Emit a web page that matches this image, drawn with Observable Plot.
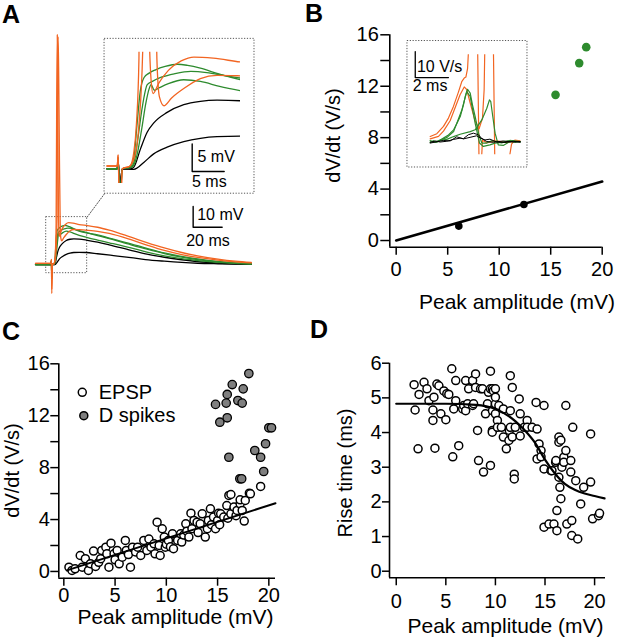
<!DOCTYPE html>
<html>
<head>
<meta charset="utf-8">
<script src="https://cdn.jsdelivr.net/npm/d3@7"></script>
<script src="https://cdn.jsdelivr.net/npm/@observablehq/plot@0.6"></script>
<style>
html,body{margin:0;padding:0;background:#fff;}
#fig{position:relative;width:617px;height:638px;overflow:hidden;background:#fff;font-family:"Liberation Sans",Arial,Helvetica,sans-serif;}
.panel-letter{position:absolute;font-weight:bold;font-size:25px;line-height:25px;color:#000;z-index:5;}
</style>
</head>
<body>
<div id="fig">
<div class="panel-letter" style="left:2px;top:2px">A</div>
<div class="panel-letter" style="left:305px;top:1px">B</div>
<div class="panel-letter" style="left:2px;top:319px">C</div>
<div class="panel-letter" style="left:310px;top:317px">D</div>
</div>
<script>
// ---------------- Panel A: voltage traces (t in ms, v in mV) ----------------
const black1T = [-10.8,-1,0,0.15,0.4,0.8,2.6,4.2,5.7,7.8,10.4,13,15.6,19.3,24,32,43,55,65,78,90,101,115,127,138];
const black1V = [0,0,0,1.5,-3,0,-0.1,1.2,2.7,3.9,4.9,5.5,5.8,5.9,5.8,5.2,4.3,3.3,2.4,1.6,1.0,0.6,0.35,0.2,0.1];
const black2T = [-10.8,-1,0,0.15,0.4,0.8,2.1,2.6,3.64,4.68,5.72,7.8,10.4,13,15.6,19.3,25,32,40,55,66,78,90,101,115,127,138];
const black2V = [0,0,0,1.5,-3,0,0,0.3,3.6,6.6,8.3,10.2,11.6,12.2,12.4,12.3,11.7,10.8,9.5,6.8,5.0,3.5,2.3,1.4,0.7,0.35,0.2];
const green1T = [-10.8,-1,0,0.15,0.4,0.8,2,2.6,3.1,3.6,4.2,5,6,7.5,9.4,11,13,16,19.3,25,32,40,55,66,78,90,101,115,127,138];
const green1V = [0,0,0,2,-7,0,0.3,2,8,14,16.5,17.3,17.9,18.5,18.9,18.7,18.2,17.1,16.1,15.2,14.3,12.8,10,7.8,5.6,3.9,2.7,1.5,0.8,0.4];
const green2T = [-10.8,-1,0,0.15,0.4,0.8,2.2,2.8,3.3,3.9,4.7,5.5,7,9,11.5,14,17,19.3,25,32,40,55,66,78,90,101,115,127,138];
const green2V = [0,0,0,2,-6,0,0.3,2,6,11,15.2,15.8,16.6,17.2,17.6,17.4,16.8,16.4,15.3,14,12.5,9.5,7.4,5.3,3.6,2.4,1.3,0.7,0.3];
const green3T = [-10.8,-1,0,0.15,0.4,0.8,2.3,3,3.8,4.5,5.0,5.3,5.8,6.5,8,10.4,13,16,19.3,25,32,40,55,66,78,90,101,115,127,138];
const green3V = [0,0,0,2,-7,0,0.3,2,7,12,14.5,15.2,14.2,14.6,15.4,16.1,15.8,14.9,14.1,13,11.8,10.5,8,6.0,4.2,2.8,1.9,1.0,0.5,0.2];
const orange1T = [-10.8,-1,0,0.15,0.4,0.8,2,2.6,3.0,3.4,3.8,4.2,4.6,5.0,5.3,5.6,6.5,8,10,12,15,19.3,25,32,40,55,66,78,90,101,115,127,138];
const orange1V = [0.5,0.5,0.5,2.5,-14,0,0.5,3,8,20,80,111,70,25,16,13.6,15.5,17.8,19.5,20.2,20.0,19.3,18.8,18,16.6,13.2,10.6,8.0,5.8,4.2,2.6,1.6,1.0];
const orange2T = [-10.8,-1,0,0.15,0.4,0.8,2,2.8,3.4,4.0,4.4,4.8,5.2,5.7,6.2,6.6,7.3,8.5,10.4,13,15.6,19.3,25,32,40,55,66,78,90,101,115,127,138];
const orange2V = [0.5,0.5,0.5,2.5,-12,0,0.5,2.5,8,22,85,110,90,50,20,13,11.4,12.8,14.5,16.3,16.9,16.8,16.5,16,15,12,9.4,6.8,4.8,3.4,2.1,1.3,0.8];

// annotation geometry for panel A (ms, mV)
const aZoomBox = [-3.45, 24.8, -4.2, 22.9];
const aInsetBox = [36.8, 140.2, 34.2, 109];
const aConnector = [[24.8, 22.9], [36.8, 34.2]];
const aScaleBar = [[97.9, 28], [97.9, 18], [117.9, 18]];   // 10 mV, 20 ms
const aScaleV = [{t: 100.7, v: 24.2, s: "10 mV"}];
const aScaleH = [{t: 108.1, v: 11.6, s: "20 ms"}];
const aInsetScaleBar = [[11.72, 4.5], [11.72, -0.5], [16.72, -0.5]];  // 5 mV, 5 ms
const aInsetScaleV = [{t: 12.55, v: 2.1, s: "5 mV"}];
const aInsetScaleH = [{t: 14.4, v: -2.42, s: "5 ms"}];

// ---------------- Panel B ----------------
const bBlackPts = [[6.08, 1.12], [12.4, 2.8]];
const bGreenPts = [[15.47, 11.33], [17.77, 13.8], [18.45, 15.04]];
const bFit = [[0, 0], [20, 4.59]];
const bYTicks = [0, 4, 8, 12, 16];
const bYMinor = [2, 6, 10, 14];
const bXTicks = [0, 5, 10, 15, 20];
const dvOrangeA = [[0,1.9],[0.4,3],[0.8,5.8],[1.1,9],[1.4,13.5],[1.7,19],[1.9,23],[2.05,24.4],[2.15,24.8],[2.25,28],[2.35,40],[2.85,40],[2.95,-12],[3.05,-12],[3.15,0.5],[3.4,-0.5],[4,0.3],[4.6,-0.4],[5.4,0.2]];
const dvOrangeB = [[0,1],[0.5,2],[0.8,4],[1.2,8],[1.5,13],[1.8,18],[2.05,21],[2.2,20],[2.4,15],[2.7,8],[2.95,5],[3.15,9],[3.25,20],[3.3,40],[3.8,40],[3.9,-12],[4.7,-12],[4.8,-5],[4.9,-1],[5.1,0.5],[5.4,0.3]];
const dvGreenA = [[0,-0.4],[0.2,0.3],[0.4,-0.3],[0.6,0.5],[0.8,1.3],[1.1,2.5],[1.41,4.5],[1.6,6.8],[1.81,9.6],[2.0,14],[2.11,17.3],[2.25,20.1],[2.41,18.6],[2.55,14],[2.71,9.6],[2.91,3.2],[3.11,-0.6],[3.4,-0.6],[3.7,0.3],[4.0,0],[4.3,-0.5],[4.7,0.2],[5.1,-0.3],[5.42,0]];
const dvGreenB = [[0,0.2],[0.3,-0.3],[0.6,0.4],[1.0,0.8],[1.41,1.9],[1.8,2.8],[2.41,3.8],[2.71,4.5],[3.11,8.3],[3.41,12.8],[3.57,16],[3.65,15.3],[3.77,9.6],[3.91,3.2],[4.1,-1.3],[4.4,-1.5],[4.7,-0.4],[5.0,0.2],[5.42,-0.2]];
const dvGreenC = [[0,0.3],[0.3,-0.2],[0.7,0.8],[1.0,1.5],[1.41,3.8],[1.9,12],[2.2,19.2],[2.41,17.3],[2.71,7],[2.97,-0.6],[3.2,-1.9],[3.6,-1.3],[3.9,-0.6],[4.3,-0.3],[4.8,0.4],[5.42,0]];
const dvBlackA = [[0,-0.3],[0.3,0.2],[0.6,-0.2],[1.0,0.1],[1.4,0.8],[1.8,1.3],[2.0,1.1],[2.3,2.6],[2.6,3.2],[2.9,2.6],[3.1,1.2],[3.4,0],[3.8,-0.3],[4.4,0.2],[5.0,-0.2],[5.42,0]];
const dvBlackB = [[0,-0.6],[0.4,-0.1],[0.8,0.4],[1.2,0.2],[1.6,1.8],[2.0,1.0],[2.4,1.6],[2.8,2.2],[3.0,1.4],[3.3,0.6],[3.6,0.9],[4.0,-0.2],[4.5,-0.4],[5.0,0.1],[5.42,-0.3]];
const bInsetBox = [-1.37, 5.86, -10, 38.65];
const bInsetScaleBar = [[-0.9, 34.6], [-0.9, 24.6], [1.1, 24.6]];   // 10 V/s, 2 ms
const bInsetScaleLabels = [{t: -0.8, v: 28.8, s: "10 V/s"}, {t: -1.05, v: 21.5, s: "2 ms"}];

// ---------------- Panel C ----------------
const epspPts = [[0.5,0.33],[0.8,0.08],[1.1,0.2],[1.6,1.23],[1.8,0.33],[2.1,0.98],[2.4,0.08],[2.6,0.6],[2.9,1.57],[3.1,0.39],[3.4,0.7],[3.6,0.98],[3.7,1.62],[4.1,1.87],[4.2,1.36],[4.4,0.33],[4.6,2.18],[4.9,1.36],[5.0,0.9],[5.2,1.62],[5.4,0.59],[5.7,1.1],[6.0,2.39],[6.1,1.62],[6.3,1.3],[6.5,0.33],[6.7,1.87],[7.0,1.5],[7.2,1.87],[7.5,1.23],[7.8,2.39],[8.1,1.62],[8.3,2.5],[8.5,1.87],[8.8,2.13],[8.9,1.36],[9.1,3.8],[9.3,2.0],[9.4,1.23],[9.6,3.29],[9.8,2.65],[9.9,1.87],[10.0,2.1],[10.2,2.39],[10.4,1.9],[10.6,2.9],[10.7,1.75],[11.1,2.39],[11.4,2.9],[11.5,2.26],[11.7,2.8],[11.9,3.67],[12.0,3.1],[12.2,2.65],[12.4,4.49],[12.5,3.29],[12.7,3.93],[13.0,3.8],[13.1,3.0],[13.3,3.67],[13.5,4.44],[13.8,2.65],[14.0,3.29],[14.1,3.93],[14.3,4.83],[14.4,3.6],[14.6,4.19],[14.8,3.29],[15.0,3.93],[15.1,4.49],[15.2,3.6],[15.3,4.44],[15.6,4.19],[15.9,5.08],[16.0,4.1],[16.1,5.86],[16.3,5.93],[16.3,4.44],[16.6,4.96],[16.8,4.3],[16.9,4.7],[17.2,5.21],[17.2,5.52],[17.4,4.7],[17.6,3.88],[17.7,5.47],[18.1,6.03],[18.2,5.98],[19.2,6.55]];
const dSpikePts = [[18.05,15.25],[16.43,14.4],[17.5,14.07],[15.94,13.64],[14.8,12.87],[15.84,12.97],[16.98,13.17],[17.4,12.97],[15.94,11.84],[15.22,11.5],[20.0,11.07],[20.26,11.07],[19.68,9.84],[18.63,9.32],[19.2,8.8],[16.1,8.8],[19.5,7.7],[17.17,7.14],[17.35,7.14]];
const cFit = [[0.3, 0.08], [20.65, 5.26]];
const cLegendDots = [{x: 1.8, y: 13.8, f: "white"}, {x: 1.95, y: 12.0, f: "gray"}];
const cLegendText = [{x: 3.41, y: 13.8, s: "EPSP"}, {x: 3.41, y: 12.0, s: "D spikes"}];
const cYTicks = [0, 4, 8, 12, 16];
const cYMinor = [2, 6, 10, 14];
const cXTicks = [0, 5, 10, 15, 20];

// ---------------- Panel D ----------------
const risePts = [[1.8,5.38],[1.9,4.65],[2.3,5.1],[2.2,3.53],[2.8,5.45],[3.1,5.26],[3.3,4.92],[3.7,4.65],[3.7,4.35],[3.8,5.02],[3.9,3.55],[4.1,5.4],[4.3,5.35],[4.5,4.54],[4.8,5.2],[5.0,4.37],[5.1,5.12],[5.3,5.1],[5.6,5.84],[5.7,3.3],[6.0,5.5],[6.0,4.92],[5.8,4.68],[6.3,3.62],[6.7,4.68],[6.8,4.78],[7.0,5.5],[7.0,4.63],[7.2,4.83],[7.3,5.26],[7.7,5.5],[7.7,4.78],[7.8,4.83],[8.0,5.69],[8.0,5.3],[8.2,4.06],[8.3,3.19],[8.5,5.26],[8.7,5.26],[8.8,2.86],[9.0,4.54],[9.2,4.83],[9.3,5.16],[9.5,5.77],[9.5,5.26],[9.5,3.05],[9.7,4.06],[9.7,4.63],[9.7,5.26],[9.68,4.01],[9.8,5.2],[10.0,4.83],[10.0,5.02],[10.0,4.54],[10.0,5.26],[10.2,4.35],[10.2,4.15],[10.35,4.78],[10.6,4.15],[10.8,4.68],[10.8,3.87],[11.1,3.53],[11.36,3.77],[11.4,4.06],[11.5,5.64],[11.5,4.63],[11.5,4.15],[11.7,5.3],[11.7,3.87],[11.9,2.8],[11.9,2.66],[12.0,4.15],[12.4,4.97],[12.5,4.54],[12.5,3.9],[12.9,4.15],[13.2,4.35],[13.2,4.15],[13.7,4.15],[14.1,4.87],[14.2,4.1],[14.2,3.24],[14.4,3.67],[14.6,3.48],[14.6,3.3],[14.9,4.78],[14.9,2.95],[14.9,1.27],[15.4,1.36],[15.6,2.9],[15.7,2.9],[15.9,1.36],[16.07,3.14],[16.1,3.19],[16.2,1.75],[16.2,1.17],[16.4,3.87],[16.4,3.72],[16.4,2.71],[16.5,2.42],[16.6,3.78],[16.6,2.09],[16.7,3.0],[16.9,3.29],[16.9,3.14],[17.1,4.78],[17.1,3.48],[17.2,1.36],[17.6,3.19],[17.6,2.86],[17.7,1.46],[17.7,1.03],[17.8,4.15],[18.1,2.61],[18.3,0.93],[18.6,1.94],[18.9,2.42],[19.6,3.96],[19.6,2.57],[19.8,1.51],[20.4,1.6],[20.5,1.67]];
const dFit = [[0,4.83],[2,4.83],[5,4.83],[8,4.8],[10,4.68],[12,4.33],[13,4.05],[14,3.7],[15,3.22],[16,2.82],[17,2.52],[18,2.35],[19,2.24],[20,2.17],[21,2.1]];
const dYTicks = [0, 1, 2, 3, 4, 5, 6];
const dXTicks = [0, 5, 10, 15, 20];

// ---------------- drawing ----------------
const ORANGE = "#f26522", GREEN = "#2e8b2e", DGRAY = "#7f7f7f";
const FONT = "'Liberation Sans', Arial, Helvetica, sans-serif";
const fig = document.getElementById("fig");
const baseStyle = {fontFamily: FONT, fontSize: "20px", background: "transparent", overflow: "visible", color: "black"};
function put(el, left, top) {
  el.style.position = "absolute";
  el.style.left = left + "px";
  el.style.top = top + "px";
  el.style.maxWidth = "none";
  fig.appendChild(el);
}
const rows = (T, V) => T.map((t, i) => ({t, v: V[i]}));
const pairs = (P) => P.map(([t, v]) => ({t, v}));
const noText = () => "";
const dotted = {fill: "none", stroke: "#555", strokeWidth: 1, strokeDasharray: "1.2 1.6"};
const centered = {textAnchor: "middle", lineAnchor: "middle"};

const aTraces = [
  {d: rows(black1T, black1V), c: "black"},
  {d: rows(black2T, black2V), c: "black"},
  {d: rows(green3T, green3V), c: GREEN},
  {d: rows(green2T, green2V), c: GREEN},
  {d: rows(green1T, green1V), c: GREEN},
  {d: rows(orange2T, orange2V), c: ORANGE},
  {d: rows(orange1T, orange1V), c: ORANGE}
];

// Panel A main
const aT0 = 50.7, aPxMs = 1.45, aV0 = 264, aPxMv = 2.07;
const aMain = Plot.plot({
  width: 300, height: 310, margin: 0,
  style: baseStyle,
  x: {domain: [-aT0 / aPxMs, (300 - aT0) / aPxMs], axis: null},
  y: {domain: [(aV0 - 310) / aPxMv, aV0 / aPxMv], axis: null},
  marks: [
    Plot.rect([aZoomBox], {x1: d => d[0], x2: d => d[1], y1: d => d[2], y2: d => d[3], ...dotted}),
    Plot.rect([aInsetBox], {x1: d => d[0], x2: d => d[1], y1: d => d[2], y2: d => d[3], ...dotted}),
    Plot.line(aConnector, {x: d => d[0], y: d => d[1], ...dotted}),
    ...aTraces.map(tr => Plot.line(tr.d, {x: "t", y: "v", stroke: tr.c, strokeWidth: 1.3, curve: "monotone-x"})),
    Plot.line(aScaleBar, {x: d => d[0], y: d => d[1], stroke: "black", strokeWidth: 1.4}),
    Plot.text(aScaleV, {x: "t", y: "v", text: "s", textAnchor: "start", fontSize: 16}),
    Plot.text(aScaleH, {x: "t", y: "v", text: "s", textAnchor: "middle", fontSize: 16})
  ]
});
put(aMain, 0, 0);

// Panel A inset
const aInset = Plot.plot({
  width: 160, height: 165, marginLeft: 6.5, marginRight: 20, marginTop: 16.7, marginBottom: 17,
  style: baseStyle,
  x: {domain: [-1.594, 19.27], axis: null},
  y: {domain: [-2.66, 21.08], axis: null},
  marks: [
    ...aTraces.map(tr => Plot.line(tr.d, {x: "t", y: "v", stroke: tr.c, strokeWidth: 1.3, curve: "monotone-x", clip: true})),
    Plot.line(aInsetScaleBar, {x: d => d[0], y: d => d[1], stroke: "black", strokeWidth: 1.4}),
    Plot.text(aInsetScaleV, {x: "t", y: "v", text: "s", textAnchor: "start", fontSize: 16}),
    Plot.text(aInsetScaleH, {x: "t", y: "v", text: "s", textAnchor: "middle", fontSize: 16})
  ]
});
put(aInset, 100, 35);

// Panel B main
const plotB = Plot.plot({
  width: 317, height: 315, marginLeft: 89.3, marginRight: 15.3, marginTop: 34.3, marginBottom: 68.3,
  style: baseStyle,
  x: {domain: [-0.62, 20], axis: null},
  y: {domain: [-0.52, 16], axis: null},
  marks: [
    Plot.ruleX([-0.62], {stroke: "black", strokeWidth: 1.6}),
    Plot.ruleY([-0.52], {stroke: "black", strokeWidth: 1.6}),
    Plot.axisY(bYTicks, {tickSize: 9, tickPadding: 2, fontSize: 20, label: null, strokeWidth: 1.5}),
    Plot.axisY(bYMinor, {tickSize: 9, tickFormat: noText, label: null, strokeWidth: 1.5}),
    Plot.axisX(bXTicks, {tickSize: 8, tickPadding: 7, fontSize: 20, label: null, strokeWidth: 1.5}),
    Plot.line(bFit, {x: d => d[0], y: d => d[1], stroke: "black", strokeWidth: 2.6}),
    Plot.dot(bBlackPts, {x: d => d[0], y: d => d[1], r: 3.8, fill: "black"}),
    Plot.dot(bGreenPts, {x: d => d[0], y: d => d[1], r: 4.3, fill: GREEN}),
    Plot.text(["Peak amplitude (mV)"], {frameAnchor: "bottom", dx: 21, dy: 55, fontSize: 21, ...centered}),
    Plot.text(["dV/dt (V/s)"], {frameAnchor: "left", rotate: -90, dx: -56, dy: -5.5, fontSize: 20, ...centered})
  ]
});
put(plotB, 300, 0);

// Panel B inset
const bInset = Plot.plot({
  width: 135, height: 140, marginLeft: 8, marginRight: 9, marginTop: 19.3, marginBottom: 20.7,
  style: baseStyle,
  x: {domain: [-1.307, 5.801], axis: null},
  y: {domain: [-5.115, 33.35], axis: null},
  marks: [
    Plot.rect([bInsetBox], {x1: d => d[0], x2: d => d[1], y1: d => d[2], y2: d => d[3], ...dotted}),
    Plot.line(pairs(dvOrangeA), {x: "t", y: "v", stroke: ORANGE, strokeWidth: 1.2, clip: true}),
    Plot.line(pairs(dvOrangeB), {x: "t", y: "v", stroke: ORANGE, strokeWidth: 1.2, clip: true}),
    Plot.line(pairs(dvGreenC), {x: "t", y: "v", stroke: GREEN, strokeWidth: 1.2, clip: true}),
    Plot.line(pairs(dvGreenB), {x: "t", y: "v", stroke: GREEN, strokeWidth: 1.2, clip: true}),
    Plot.line(pairs(dvGreenA), {x: "t", y: "v", stroke: GREEN, strokeWidth: 1.2, clip: true}),
    Plot.line(pairs(dvBlackA), {x: "t", y: "v", stroke: "black", strokeWidth: 1, clip: true}),
    Plot.line(pairs(dvBlackB), {x: "t", y: "v", stroke: "black", strokeWidth: 1, clip: true}),
    Plot.line(bInsetScaleBar, {x: d => d[0], y: d => d[1], stroke: "black", strokeWidth: 1.3}),
    Plot.text(bInsetScaleLabels, {x: "t", y: "v", text: "s", textAnchor: "start", fontSize: 16})
  ]
});
put(bInset, 400, 35);

// Panel C
const plotC = Plot.plot({
  width: 310, height: 318, marginLeft: 58.3, marginRight: 35, marginTop: 43.3, marginBottom: 60.3,
  style: baseStyle,
  x: {domain: [-0.49, 20.65], axis: null},
  y: {domain: [-0.52, 16], axis: null},
  marks: [
    Plot.ruleX([-0.49], {stroke: "black", strokeWidth: 1.6}),
    Plot.ruleY([-0.52], {stroke: "black", strokeWidth: 1.6}),
    Plot.axisY(cYTicks, {tickSize: 8, tickPadding: 1, fontSize: 20, label: null, strokeWidth: 1.5}),
    Plot.axisY(cYMinor, {tickSize: 8, tickFormat: noText, label: null, strokeWidth: 1.5}),
    Plot.axisX(cXTicks, {tickSize: 8, tickPadding: 2, fontSize: 20, label: null, strokeWidth: 1.5}),
    Plot.dot(epspPts, {x: d => d[0], y: d => d[1], r: 4, fill: "white", stroke: "black", strokeWidth: 1.5}),
    Plot.line(cFit, {x: d => d[0], y: d => d[1], stroke: "black", strokeWidth: 2}),
    Plot.dot(dSpikePts, {x: d => d[0], y: d => d[1], r: 4.2, fill: DGRAY, stroke: "black", strokeWidth: 1.3}),
    Plot.dot(cLegendDots, {x: "x", y: "y", r: 4, fill: d => d.f === "gray" ? DGRAY : "white", stroke: "black", strokeWidth: 1.5}),
    Plot.text(cLegendText, {x: "x", y: "y", text: "s", textAnchor: "start", fontSize: 20}),
    Plot.text(["Peak amplitude (mV)"], {frameAnchor: "bottom", dx: 8.3, dy: 39.5, fontSize: 21, ...centered}),
    Plot.text(["dV/dt (V/s)"], {frameAnchor: "left", rotate: -90, dx: -46.6, dy: -0.5, fontSize: 20, ...centered})
  ]
});
put(plotC, 0, 320);

// Panel D
const plotD = Plot.plot({
  width: 307, height: 318, marginLeft: 79, marginRight: 12, marginTop: 42.7, marginBottom: 60.7,
  style: baseStyle,
  x: {domain: [-0.68, 21.1], axis: null},
  y: {domain: [-0.19, 6], axis: null},
  marks: [
    Plot.ruleX([-0.68], {stroke: "black", strokeWidth: 1.6}),
    Plot.ruleY([-0.19], {stroke: "black", strokeWidth: 1.6}),
    Plot.axisY(dYTicks, {tickSize: 7, tickPadding: 1, fontSize: 20, label: null, strokeWidth: 1.5}),
    Plot.axisX(dXTicks, {tickSize: 8, tickPadding: 8, fontSize: 20, label: null, strokeWidth: 1.5}),
    Plot.dot(risePts, {x: d => d[0], y: d => d[1], r: 4, fill: "white", stroke: "black", strokeWidth: 1.5}),
    Plot.line(dFit, {x: d => d[0], y: d => d[1], stroke: "black", strokeWidth: 2.2, curve: "monotone-x"}),
    Plot.text(["Peak amplitude (mV)"], {frameAnchor: "bottom", dx: 8, dy: 48.5, fontSize: 21, ...centered}),
    Plot.text(["Rise time (ms)"], {frameAnchor: "left", rotate: -90, dx: -44, dy: 2.5, fontSize: 20, ...centered})
  ]
});
put(plotD, 310, 320);
</script>
</body>
</html>
